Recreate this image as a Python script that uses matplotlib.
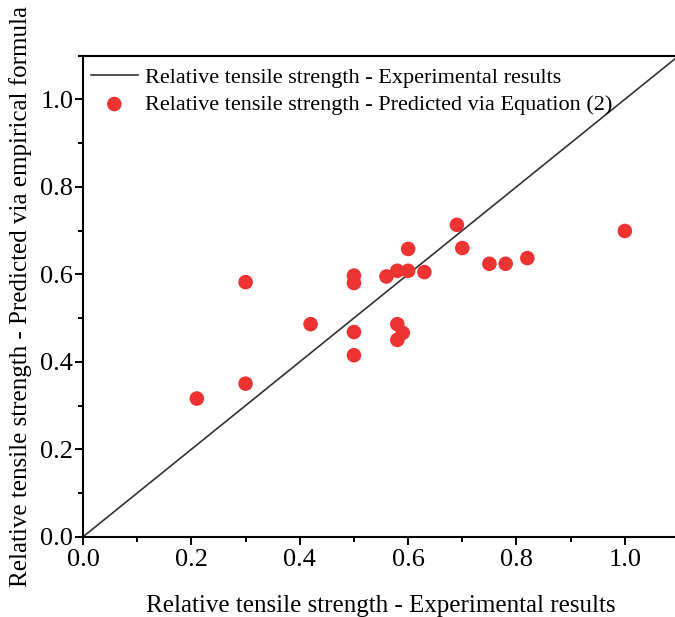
import numpy as np
import matplotlib.pyplot as plt
from matplotlib.ticker import MultipleLocator

plt.rcParams['font.family'] = ['Liberation Serif', 'DejaVu Serif']

# experimental vs predicted relative tensile strength
experimental = [0.21, 0.30, 0.30, 0.42, 0.50, 0.50, 0.50, 0.50, 0.56, 0.58, 0.58,
                0.58, 0.59, 0.60, 0.60, 0.63, 0.69, 0.70, 0.75, 0.78, 0.82, 1.00]
predicted = [0.316, 0.350, 0.582, 0.486, 0.597, 0.580, 0.468, 0.415, 0.595, 0.608, 0.486,
             0.450, 0.466, 0.658, 0.608, 0.605, 0.713, 0.660, 0.624, 0.624, 0.637, 0.699]

ref_line = [0.0, 1.1]

fig = plt.figure(figsize=(6.75, 6.17), dpi=100)
ax = fig.add_axes([0.123, 0.130, 0.883, 0.780])

ax.plot(ref_line, ref_line, color='#333333', lw=1.2,
        label='Relative tensile strength - Experimental results')
ax.scatter(experimental, predicted, s=110, color='#EE3333', edgecolors='none', zorder=3,
           label='Relative tensile strength - Predicted via Equation (2)')

ax.set_xlim(0, 1.1)
ax.set_ylim(0, 1.1)
ax.xaxis.set_major_locator(MultipleLocator(0.2))
ax.xaxis.set_minor_locator(MultipleLocator(0.1))
ax.yaxis.set_major_locator(MultipleLocator(0.2))
ax.yaxis.set_minor_locator(MultipleLocator(0.1))
ax.tick_params(which='major', direction='out', length=6, width=1.4, labelsize=19)
ax.tick_params(axis='x', which='major', pad=3)
ax.tick_params(axis='y', which='major', pad=1)
ax.tick_params(which='minor', direction='out', length=3.5, width=1.4)
for sp in ax.spines.values():
    sp.set_linewidth(1.5)

ax.set_xlabel('Relative tensile strength - Experimental results', fontsize=18, labelpad=17)
ax.set_ylabel('Relative tensile strength - Predicted via empirical formula', fontsize=18, labelpad=6)

ax.legend(loc='upper left', frameon=False, fontsize=16, handlelength=2.1,
          borderaxespad=0, borderpad=0, labelspacing=0.3, handletextpad=0.35,
          bbox_to_anchor=(0.0134, 0.976))

fig.savefig('out.png', dpi=100)
